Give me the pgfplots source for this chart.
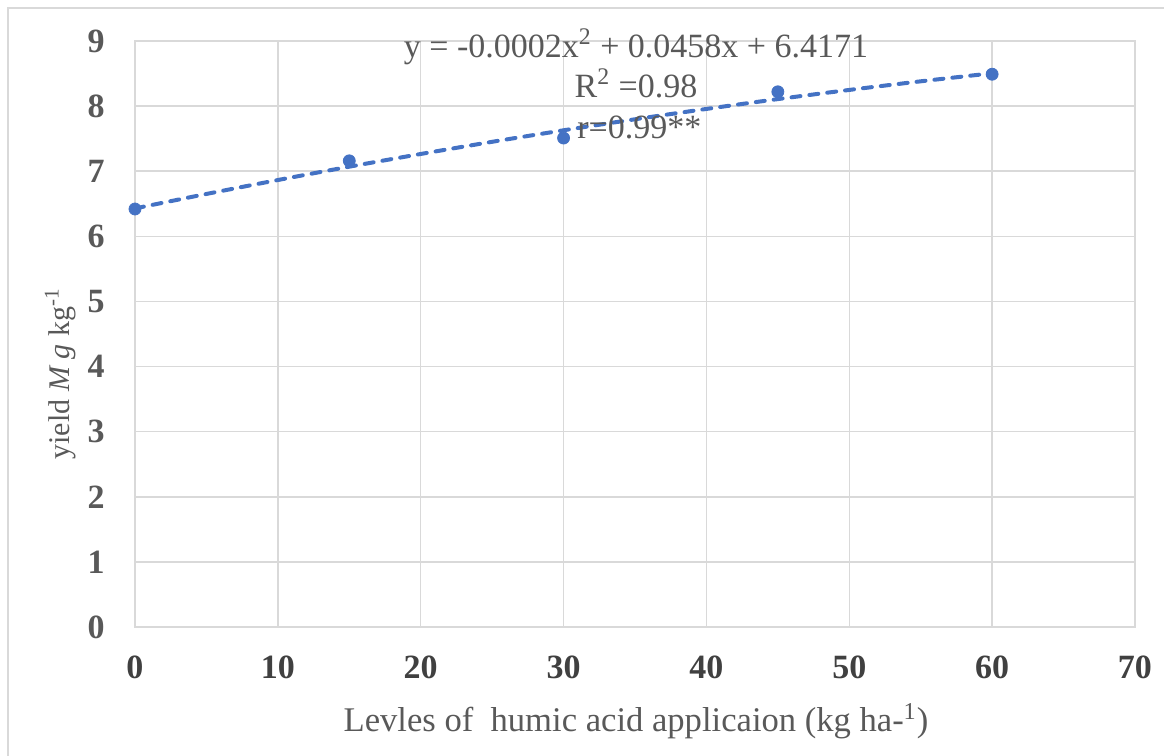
\documentclass[border=0pt]{standalone}
\usepackage{pgfplots}
\pgfplotsset{compat=1.18}
\usepackage{fontspec}
\setmainfont{Liberation Serif}
\definecolor{xlblue}{HTML}{4472C4}
\definecolor{gridgray}{HTML}{D9D9D9}
\definecolor{txtgray}{HTML}{595959}
\definecolor{tickdark}{HTML}{404040}

\begin{document}
\begin{tikzpicture}
\path[use as bounding box] (0pt,0pt) rectangle (582pt,-378pt);
\draw[gridgray, line width=0.75pt] (4pt,-382pt) -- (4pt,-4pt) -- (586pt,-4pt);
\begin{axis}[
    scale only axis,
    width=500pt, height=293pt,
    at={(67.5pt,-313.5pt)}, anchor=south west,
    xmin=0, xmax=70,
    ymin=0, ymax=9,
    xtick={0,10,...,70},
    ytick={0,1,...,9},
    grid=major,
    major grid style={draw=gridgray, line width=0.75pt},
    axis line style={draw=gridgray, line width=0.75pt},
    major tick length=0pt,
    clip=false,
    /pgf/number format/assume math mode=true,
    ticklabel style={font=\fontsize{17}{20}\selectfont\bfseries, inner sep=0pt},
    xticklabel style={text=tickdark, anchor=north, yshift=-14pt},
    yticklabel style={text=txtgray, anchor=east, xshift=-15pt},
    xlabel={Levles of~ humic acid applicaion (kg ha-\textsuperscript{1})},
    ylabel={yield \textit{M g} kg\textsuperscript{-1}},
    label style={text=txtgray, inner sep=0pt},
    xlabel style={font=\fontsize{17.3}{20}\selectfont,
                  at={(axis description cs:0.501,-0.179)}, anchor=base},
    ylabel style={font=\fontsize{15}{18}\selectfont,
                  at={(axis description cs:-0.066,0.432)}, anchor=base},
]
% fitted quadratic trend
\addplot[xlblue, line width=2pt, smooth, line cap=round,
         dash pattern=on 4.5pt off 4.5pt]
coordinates {
    (0,6.429) (5,6.651) (10,6.865) (15,7.070) (20,7.265) (25,7.452)
    (30,7.629) (35,7.798) (40,7.957) (45,8.108) (50,8.249) (55,8.381)
    (60,8.505)
};
\addplot[only marks, mark=*, mark size=3pt, color=xlblue]
table {
    x  y
    0  6.42
    15 7.16
    30 7.51
    45 8.22
    60 8.49
};
\node[anchor=base, font=\fontsize{17}{20}\selectfont, text=txtgray]
    at (axis cs:35.07,8.754) {y = -0.0002x\textsuperscript{2} + 0.0458x + 6.4171};
\node[anchor=base, font=\fontsize{17}{20}\selectfont, text=txtgray]
    at (axis cs:35.07,8.14) {R\textsuperscript{2} =0.98};
\node[anchor=base, font=\fontsize{17}{20}\selectfont, text=txtgray]
    at (axis cs:35.3,7.51) {r=0.99**};
\end{axis}
\end{tikzpicture}
\end{document}
